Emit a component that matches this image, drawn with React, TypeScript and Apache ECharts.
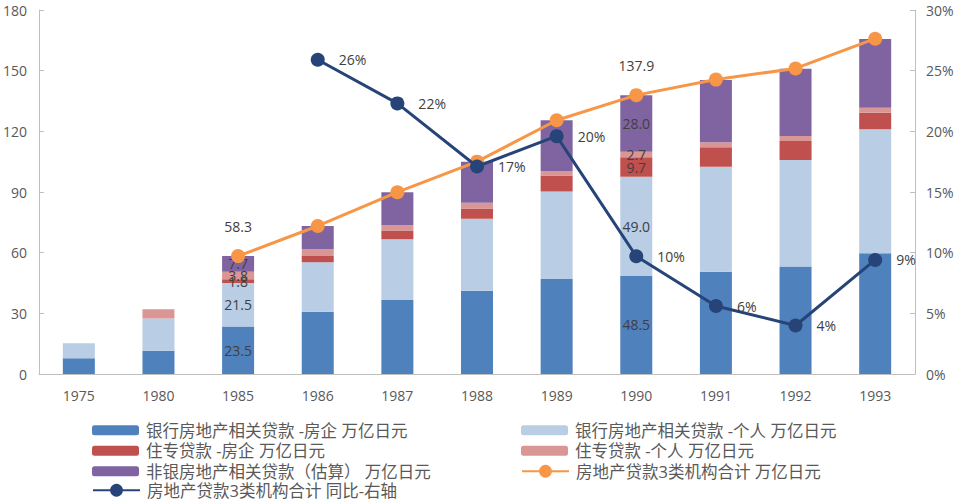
import React, { useEffect, useRef } from "react";
import * as echarts from "echarts";

const years = ["1975", "1980", "1985", "1986", "1987", "1988", "1989", "1990", "1991", "1992", "1993"];
const bankCorp = [7.8, 11.5, 23.5, 30.8, 36.6, 41.2, 47.0, 48.5, 50.6, 53.1, 59.7];
const bankPerson = [7.4, 16.0, 21.5, 24.4, 30.0, 35.6, 43.2, 49.0, 51.9, 52.7, 61.3];
const jusenCorp = [0, 0, 1.8, 3.2, 4.3, 5.1, 7.9, 9.7, 9.6, 9.4, 8.2];
const jusenPerson = [0, 4.5, 3.8, 3.3, 2.6, 2.8, 2.3, 2.7, 2.5, 2.5, 2.5];
const nonBank = [0, 0, 7.7, 11.5, 16.4, 20.3, 25.1, 28.0, 30.8, 33.3, 34.0];
const total = [null, null, 58.3, 73.2, 89.9, 105.0, 125.5, 137.9, 145.6, 151.1, 165.8];
const growth = [null, null, null, 25.9, 22.3, 17.1, 19.6, 9.7, 5.6, 4.0, 9.4];
const labeledIdx = [2, 7];

const names = [
  "银行房地产相关贷款 -房企 万亿日元",
  "银行房地产相关贷款 -个人 万亿日元",
  "住专贷款 -房企 万亿日元",
  "住专贷款 -个人 万亿日元",
  "非银房地产相关贷款（估算） 万亿日元",
  "房地产贷款3类机构合计 万亿日元",
  "房地产贷款3类机构合计 同比-右轴",
];
const colors = ["#4F81BD", "#B9CDE5", "#C0504D", "#D99694", "#8064A2", "#F79646", "#264478"];

const FONT = "'Open Sans', 'Noto Sans CJK SC', sans-serif";
const TXT = "#595959";
const LBL = "#404040";

export default function App() {
  const ref = useRef<HTMLDivElement>(null);
  useEffect(() => {
    const chart = echarts.init(ref.current!, null, { renderer: "svg" });
    const barData = [bankCorp, bankPerson, jusenCorp, jusenPerson, nonBank];
    const bars = barData.map((arr, si) => ({
      name: names[si],
      type: "bar",
      stack: "s",
      barWidth: 32,
      itemStyle: { color: colors[si] },
      data: arr.map((v, i) =>
        labeledIdx.includes(i)
          ? {
              value: v,
              label: {
                show: true,
                position: "inside",
                color: LBL,
                fontSize: 14,
                fontFamily: FONT,
                formatter: (p: any) => Number(p.value).toFixed(1),
              },
            }
          : v
      ),
    }));
    const barLegend = {
      orient: "vertical",
      top: 422,
      height: 90,
      padding: 0,
      itemWidth: 47,
      itemHeight: 10,
      itemGap: 4,
      textStyle: { color: TXT, fontSize: 16.5, fontFamily: FONT, padding: [0, 0, 0, 2] },
    };
    const lineLegend = {
      ...barLegend,
      itemHeight: 16,
    };
    chart.setOption({
      animation: false,
      textStyle: { fontFamily: FONT },
      grid: { left: 39, right: 45, top: 10, bottom: 127 },
      legend: [
        { ...barLegend, left: 92, data: [names[0], names[2], names[4]] },
        { ...barLegend, left: 521, data: [names[1], names[3]] },
        { ...lineLegend, left: 92, top: 482, data: [names[6]] },
        { ...lineLegend, left: 521, top: 463, data: [names[5]] },
      ],
      xAxis: {
        type: "category",
        data: years,
        axisLine: { lineStyle: { color: "#BFBFBF" } },
        axisTick: { show: false },
        axisLabel: { color: TXT, fontSize: 14, margin: 14 },
      },
      yAxis: [
        {
          type: "value",
          min: 0,
          max: 180,
          interval: 30,
          splitLine: { show: false },
          axisLine: { show: true, lineStyle: { color: "#BFBFBF" } },
          axisTick: { show: true, inside: true, length: 5, lineStyle: { color: "#BFBFBF" } },
          axisLabel: { color: TXT, fontSize: 14, margin: 12 },
        },
        {
          type: "value",
          min: 0,
          max: 30,
          interval: 5,
          position: "right",
          splitLine: { show: false },
          axisLine: { show: true, lineStyle: { color: "#BFBFBF" } },
          axisTick: { show: true, inside: true, length: 5, lineStyle: { color: "#BFBFBF" } },
          axisLabel: { color: TXT, fontSize: 14, margin: 11, formatter: "{value}%" },
        },
      ],
      series: [
        ...bars,
        {
          name: names[5],
          type: "line",
          data: total.map((v, i) =>
            labeledIdx.includes(i) && v != null
              ? {
                  value: v,
                  label: {
                    show: true,
                    position: "top",
                    distance: 16,
                    color: LBL,
                    fontSize: 14,
                    formatter: (p: any) => Number(p.value).toFixed(1),
                  },
                }
              : v
          ),
          symbol: "circle",
          symbolSize: 14,
          lineStyle: { color: colors[5], width: 3 },
          itemStyle: { color: colors[5] },
          z: 3,
        },
        {
          name: names[6],
          type: "line",
          yAxisIndex: 1,
          data: growth,
          symbol: "circle",
          symbolSize: 14,
          lineStyle: { color: colors[6], width: 3 },
          itemStyle: { color: colors[6] },
          label: {
            show: true,
            position: "right",
            distance: 14,
            color: LBL,
            fontSize: 14,
            formatter: (p: any) => Math.round(p.value) + "%",
          },
          z: 4,
        },
      ],
    });
    return () => chart.dispose();
  }, []);
  return <div ref={ref} style={{ position: "absolute", left: 0, top: 0, width: 960, height: 501 }} />;
}
